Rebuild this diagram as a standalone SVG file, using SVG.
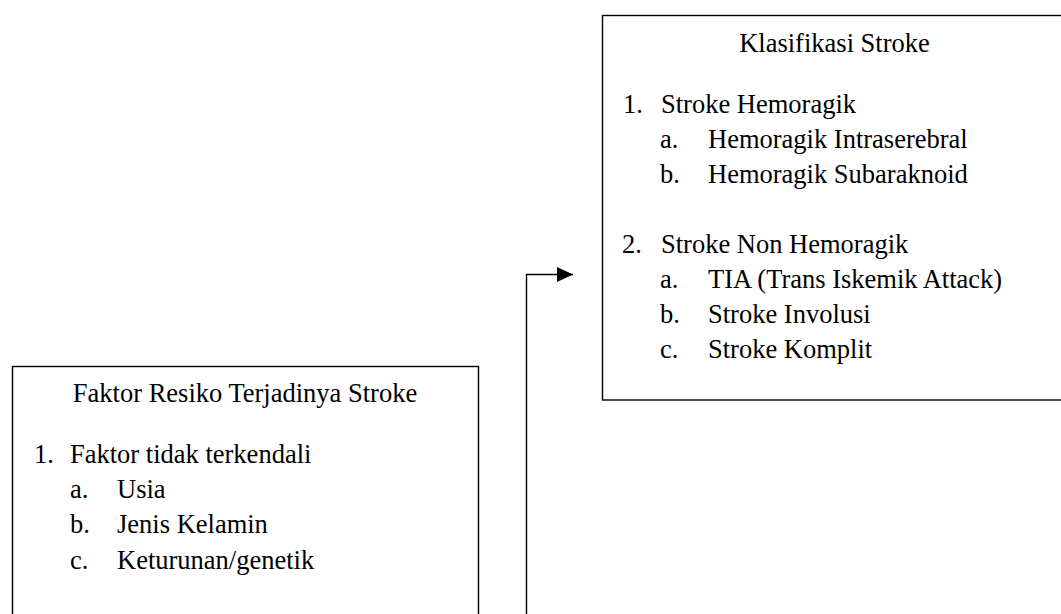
<svg xmlns="http://www.w3.org/2000/svg" width="1061" height="614" viewBox="0 0 1061 614">
<style>
.box{fill:#fff;stroke:#000;stroke-width:1.4}
text{font-family:"Liberation Serif","Times New Roman",serif;font-size:26.5px;fill:#000}
.c{text-anchor:middle}
.conn{fill:none;stroke:#000;stroke-width:1.4}
</style>
<defs>
<marker id="arr" markerWidth="16" markerHeight="16" refX="16" refY="7.5" orient="auto" markerUnits="userSpaceOnUse">
<path d="M0,0 L16,7.5 L0,15 Z" fill="#000"/>
</marker>
</defs>
<rect width="1061" height="614" fill="#fff"/>
<g id="klasifikasi">
<rect class="box" x="602.5" y="15.5" width="466" height="384.5"/>
<text class="c" x="834.5" y="52">Klasifikasi Stroke</text>
<text x="623" y="113">1.</text><text x="661" y="113">Stroke Hemoragik</text>
<text x="660" y="148">a.</text><text x="708" y="148">Hemoragik Intraserebral</text>
<text x="660" y="183">b.</text><text x="708" y="183">Hemoragik Subaraknoid</text>
<text x="622" y="253">2.</text><text x="661" y="253">Stroke Non Hemoragik</text>
<text x="660" y="288">a.</text><text x="708" y="288">TIA (Trans Iskemik Attack)</text>
<text x="660" y="323">b.</text><text x="708" y="323">Stroke Involusi</text>
<text x="660" y="358">c.</text><text x="708" y="358">Stroke Komplit</text>
</g>
<g id="faktor">
<rect class="box" x="12.5" y="366.5" width="466" height="260"/>
<text class="c" x="245" y="402">Faktor Resiko Terjadinya Stroke</text>
<text x="34" y="463">1.</text><text x="70" y="463">Faktor tidak terkendali</text>
<text x="70" y="498">a.</text><text x="117" y="498">Usia</text>
<text x="70" y="533">b.</text><text x="117" y="533">Jenis Kelamin</text>
<text x="70" y="569">c.</text><text x="117" y="569">Keturunan/genetik</text>
</g>
<g id="connectors">
<path class="conn" d="M526.5,614 V274.5 H573" marker-end="url(#arr)"/>
</g>
</svg>
